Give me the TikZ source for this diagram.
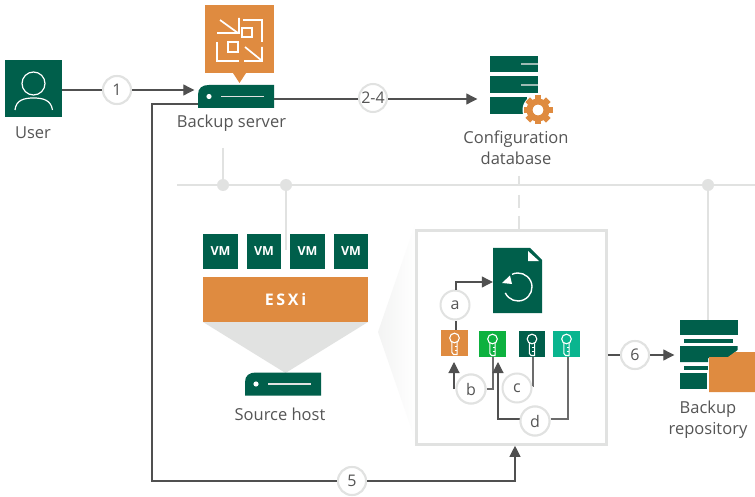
\documentclass[tikz,border=0pt]{standalone}
\usepackage{fontspec}
\setmainfont{Open Sans}
\usetikzlibrary{arrows.meta,shadings}
\definecolor{vgreen}{HTML}{005F4B}
\definecolor{vorange}{HTML}{DF8B40}
\definecolor{vgray}{HTML}{E1E2E1}
\definecolor{vline}{HTML}{505050}
\definecolor{vkey}{HTML}{0DB13F}
\definecolor{vteal}{HTML}{0AB58F}
\definecolor{vtext}{HTML}{555555}
\tikzset{
  conn/.style={draw=vline,line width=1.1pt,-{Triangle[length=11pt,width=11pt]}},
  connp/.style={draw=vline,line width=1.1pt},
  keyline/.style={draw=gray!85!black,line width=1.1pt},
  net/.style={draw=vgray,line width=2.6pt},
  dot/.style={circle,fill=vgray,minimum size=12pt,inner sep=0pt,draw=none},
  stepc/.style={circle,draw=vgray,fill=white,line width=2pt,minimum size=28pt,inner sep=0pt,text=vtext,font=\fontsize{16}{16}\selectfont},
  lbl/.style={text=vtext,font=\fontsize{16.5}{21}\selectfont,align=center,inner sep=0pt},
  vmbox/.style={fill=vgreen,minimum width=34.5pt,minimum height=34.5pt,inner sep=0pt,text=white,font=\fontsize{12.5}{12.5}\bfseries\selectfont},
  keybox/.style={minimum width=26.5pt,minimum height=26.5pt,inner sep=0pt},
  iconw/.style={draw=white,line width=1.2pt,fill=none},
  iconb/.style={draw=white,line width=1.7pt,fill=none},
  keyicon/.pic={
    \draw[white,line width=1.1pt] (0,-5) circle (4.8);
    \draw[white,line width=1.1pt] (-2.6,-1) -- (-2.6,9.5) -- (-1,11.5) -- (2.6,11.5) -- (2.6,-1);
    \draw[white,line width=1pt] (0,3.5) -- (2.6,3.5) (0,7) -- (2.6,7);
  },
  srv/.pic={
    \fill[vgreen] (0,23) -- (0,10) .. controls (0,3) and (4,0) .. (11,0) -- (76,0) -- (76,23) -- cycle;
    \fill[white] (11,11.5) circle (2.6);
    \fill[vgray] (23,10.8) rectangle (66,12.4);
  }
}
\begin{document}
\begin{tikzpicture}[x=1pt,y=-1pt]
\useasboundingbox (0,0) rectangle (755,497);
\fill[white] (0,0) rectangle (755,497);
% coordinates
\coordinate (nL) at (177,185);
\coordinate (nR) at (755,185);
\coordinate (drop1) at (223,148);
\coordinate (drop2) at (286,250);
\coordinate (drop3) at (708,320);
\coordinate (dbtop) at (519,176);
\coordinate (dbbot) at (519,230);
% network
\draw[net] (nL) -- (nR);
\node[dot] (d1) at (223,185) {};
\node[dot] (d2) at (286,185) {};
\node[dot] (d3) at (708,185) {};
\draw[net] (drop1) -- (d1);
\draw[net] (d2) -- (drop2);
\draw[net] (d3) -- (drop3);
\draw[net,dash pattern=on 9pt off 10pt on 13pt off 8pt on 14pt off 0pt] (dbtop) -- (dbbot);
% callout shade
\shade[left color=vgray!40,right color=white,draw=none] (378,332) -- (416,222) -- (416,442) -- cycle;
% User
\node[fill=vgreen,minimum width=57pt,minimum height=57pt,inner sep=0pt] (user) at (33.5,88.5) {};
\draw[iconw] (33.5,83.5) circle (11.5) ;
\draw[iconw] (15,110) .. controls (16,100) and (24,98) .. (33.5,98) .. controls (43,98) and (51,100) .. (52.5,110);
\node[lbl] (userl) at (33,133) {User};
% Backup server
\node[fill=vorange,minimum width=69pt,minimum height=68pt,inner sep=0pt] (vbr) at (239.5,39) {};
\fill[vorange] (233,73) -- (246,73) -- (239.5,83) -- cycle;
\draw[iconb] (243,20) -- (262,20) -- (262,42);
\draw[iconb] (217,42) -- (217,61) -- (239,61);
\draw[iconb] (220,20) -- (238,33) (217,33) -- (239,33) -- (239,18);
\draw[iconb] (245,47) -- (261,60) (244,61) -- (262,61) -- (262,47);
\draw[iconb] (242,28) rectangle (252,37);
\draw[iconb] (228,42) rectangle (238,52);
\pic at (198,85) {srv};
\coordinate (srvl) at (198,104);
\coordinate (srvr) at (274,99);
\node[inner sep=0pt,minimum width=1pt,minimum height=1pt] (srvin) at (195,90) {};
\node[lbl] (srvlbl) at (231.5,123) {Backup server};
% steps 1
\node[stepc] (s1) at (117,90) {1};
\draw[connp] (user.east |- s1) -- (s1);
\draw[conn] (s1) -- (srvin);
\node[stepc] at (117,90) {1};
% DB
\fill[vgreen] (490,56) rectangle (538,72);
\fill[vgreen] (490,76) rectangle (538,93);
\fill[vgreen] (490,97) rectangle (527,114);
\fill[vgray!70!vgreen] (521,63) rectangle (538,65);
\fill[vgray!70!vgreen] (521,84) rectangle (538,86);
\begin{scope}[shift={(538,110)}]
  \fill[white] (0,0) circle (15.5);
  \foreach \a in {0,45,...,315}{\fill[vorange,rotate=\a] (-3.2,-14.5) rectangle (3.2,-8);}
  \draw[vorange,line width=6pt] (0,0) circle (8.5);
\end{scope}
\node[lbl] (dblbl) at (516,147.5) {Configuration\\database};
\node[inner sep=0pt,minimum width=1pt,minimum height=1pt] (dbin) at (478,99) {};
% Line server to DB
\node[stepc] (s2) at (373,98) {2-4};
\draw[connp] (srvr) -- (s2.west |- srvr);
\draw[conn] (s2.east |- srvr) -- (dbin);
% VMs
\foreach \n/\x in {1/220.5,2/264,3/307.5,4/351}{\node[vmbox] (vm\n) at (\x,251.5) {VM};}
\node[fill=vorange,minimum width=165pt,minimum height=45pt,inner sep=0pt,text=white,font=\fontsize{16}{16}\bfseries\selectfont] (esxi) at (285.5,299.5) {E\,S\,X\,i};
\fill[vgray] (203,322) -- (368,322) -- (285.5,373) -- cycle;
\pic at (245,372.5) {srv};
\node[lbl] (hostlbl) at (280,414.5) {Source host};
% Detail box
\node[draw=vgray,line width=2.6pt,fill=white,minimum width=190pt,minimum height=214pt,inner sep=0pt] (box) at (511.5,337.5) {};
% doc
\fill[vgreen] (493,248) -- (530,248) -- (542,260) -- (542,313) -- (493,313) -- cycle;
\fill[white] (528,251) -- (539,261) -- (528,261) -- cycle;
\node[inner sep=0pt,minimum width=49pt,minimum height=65pt] (doc) at (517.5,280.5) {};
\draw[white,line width=1.4pt] (518,287) ++(245:14) arc[start angle=245,end angle=515,radius=14];
\fill[white] (502,283) -- (510,275.5) -- (512,284) -- cycle;
% keys
\node[keybox,fill=vorange] (k1) at (454.5,343) {};
\node[keybox,fill=vkey] (k2) at (492.5,344) {};
\node[keybox,fill=vgreen] (k3) at (532,344) {};
\node[keybox,fill=vteal] (k4) at (566.5,344) {};
\foreach \k in {k1,k2,k3,k4}{\pic at (\k) {keyicon};}
% a
\node[stepc,minimum size=29pt] (sa) at (455,305) {a};
\coordinate (aup) at (456,282);
\draw[connp] (k1.north -| aup) -- (sa.south -| aup);
\draw[conn] (sa.north -| aup) -- (aup) -- (doc.west |- aup);
% b
\node[stepc,minimum size=29pt] (sb) at (471,389) {b};
\coordinate (bl) at (454,389);
\coordinate (bt) at (454,362);
\coordinate (br) at (493,389);
\draw[conn] (bl) -- (bt);
\draw[keyline] (sb) -- (br) -- (br |- k2.south);
\node[stepc,minimum size=29pt] at (471,389) {b};
% d
\node[stepc,minimum size=29pt] (sd) at (535,421) {d};
\coordinate (dl) at (498,419);
\coordinate (dt) at (498,362);
\coordinate (dr) at (568,419);
\draw[conn] (sd.west |- dl) -- (dl) -- (dt);
\draw[keyline] (sd.east |- dr) -- (dr) -- (dr |- k4.south);
% c
\node[stepc,minimum size=29pt] (sc) at (517,388) {c};
\coordinate (cr) at (533,386);
\draw[keyline] (sc.east |- cr) -- (cr) -- (cr |- k3.south);
\node[stepc,minimum size=29pt] at (535,421) {d};
% 5
\node[stepc] (s5) at (352,481) {5};
\coordinate (l1) at (152,104);
\coordinate (l2) at (152,481);
\coordinate (l3) at (515,481);
\draw[connp] (srvl) -- (l1) -- (l2) -- (s5);
\draw[conn] (s5) -- (l3) -- (l3 |- box.south);
\node[stepc] at (352,481) {5};
% Repository
\fill[vgreen] (680,320) rectangle (737.5,335);
\fill[vgreen] (684,339) rectangle (733,343);
\fill[vgreen] (680,346) -- (737.5,346) -- (737.5,350) -- (728,358) -- (708,358) -- (708,362) -- (680,362) -- cycle;
\fill[vgreen] (684,366) rectangle (708,370);
\fill[vgreen] (680,373) rectangle (707,389);
\fill[vorange] (709,357) -- (728,357) -- (735,352) -- (755,352) -- (755,392) -- (709,392) -- cycle;
\node[inner sep=0pt,minimum width=1pt,minimum height=1pt] (repin) at (675,355) {};
\node[lbl] (replbl) at (708,419.5) {Backup\\repository};
\node[stepc] (s6) at (635,355) {6};
\draw[connp] (box.east |- s6) -- (s6);
\draw[conn] (s6) -- (repin);
\node[stepc] at (635,355) {6};
\end{tikzpicture}
\end{document}
